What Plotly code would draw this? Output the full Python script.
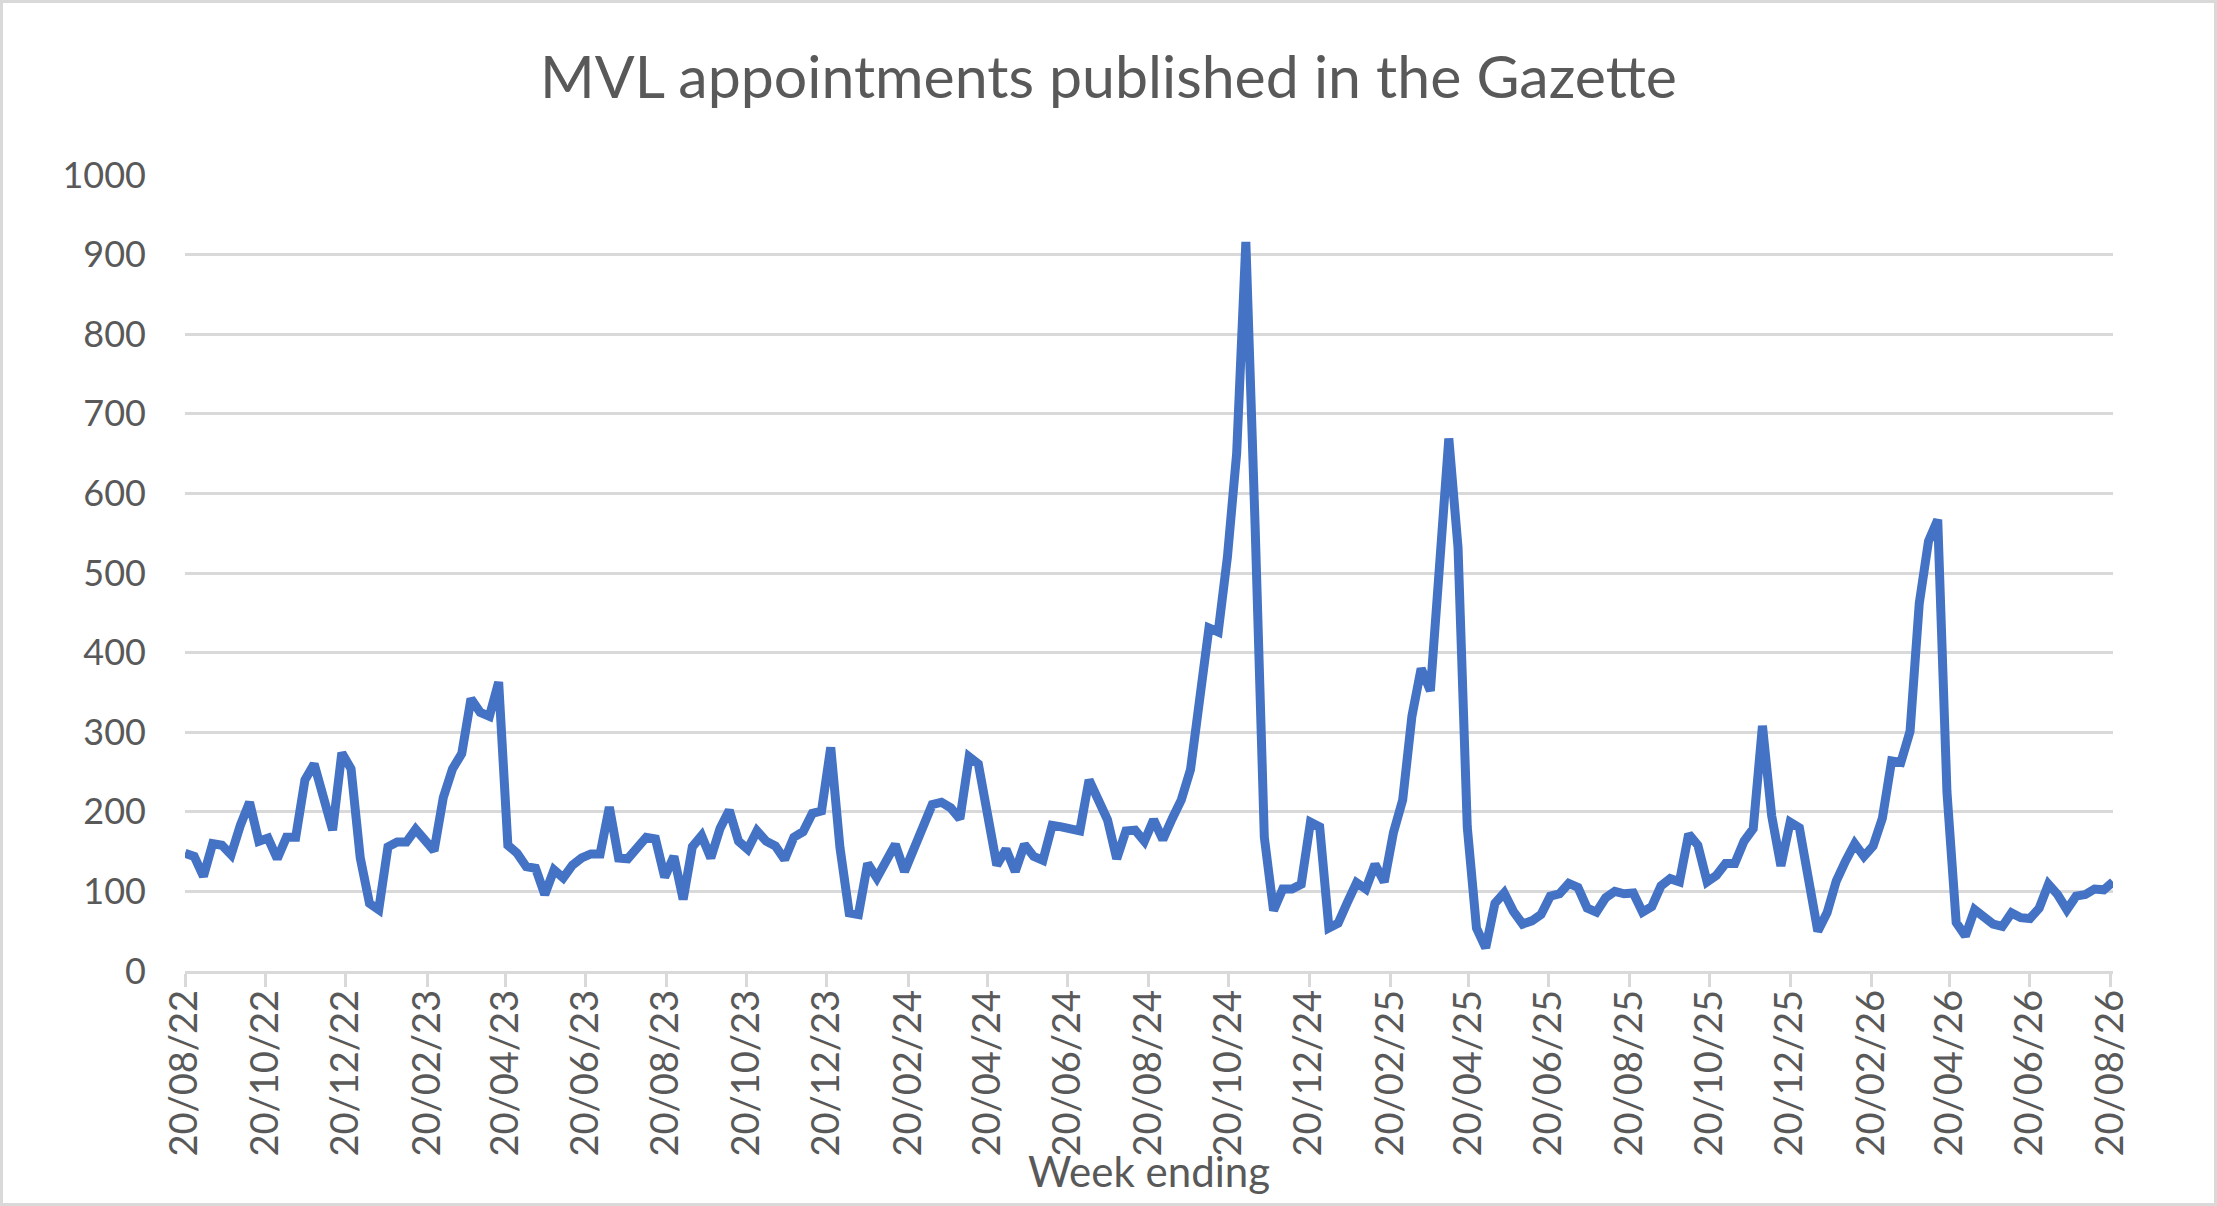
import pandas as pd
import plotly.graph_objects as go

# ---- data -------------------------------------------------------------
first_week = "2022-08-20"
appointments = [
    148, 144, 119, 160, 158, 146, 183, 212, 163, 167, 141, 168, 168, 240, 260, 221,
    177, 274, 254, 142, 85, 77, 156, 162, 162, 178, 165, 151, 218, 254, 273, 342,
    325, 320, 363, 158,
    148, 131, 129, 96, 127, 117, 133, 142, 147, 147, 206, 142, 141, 156, 168, 166,
    118, 144, 90, 156, 170, 142, 179, 202, 163, 153, 176, 163, 157, 140, 168, 175,
    198, 201, 281,
    155, 73, 71, 135, 117, 140, 159, 125, 154, 183, 209, 212, 205, 191, 269, 260,
    188, 133, 153, 125, 159, 144, 139, 183, 181, 179, 176, 240, 213, 190, 141, 176,
    177, 163, 190, 165,
    191, 215, 253, 345, 431, 426, 520, 650, 916, 560, 168, 76, 103, 103, 109, 187,
    181, 54, 60, 86, 111, 103, 134, 112, 174, 215, 320, 380, 352, 510, 669, 532,
    181, 54, 29,
    85, 98, 75, 59, 63, 71, 94, 97, 110, 105, 79, 74, 92, 100, 97, 98,
    74, 81, 107, 116, 112, 172, 158, 112, 120, 135, 135, 163, 179, 308, 195, 132,
    187, 180, 115, 50,
    73, 113, 138, 160, 144, 157, 192, 264, 262, 301, 462, 540, 567, 225, 61, 44,
    77, 67, 59, 56, 73, 67, 66, 79, 109, 96, 77, 94, 96, 103, 102, 112,
]
week_ending = pd.date_range(first_week, periods=len(appointments), freq="7D")

tick_dates = [
    "2022-08-20", "2022-10-20", "2022-12-20",
    "2023-02-20", "2023-04-20", "2023-06-20", "2023-08-20", "2023-10-20", "2023-12-20",
    "2024-02-20", "2024-04-20", "2024-06-20", "2024-08-20", "2024-10-20", "2024-12-20",
    "2025-02-20", "2025-04-20", "2025-06-20", "2025-08-20", "2025-10-20", "2025-12-20",
    "2026-02-20", "2026-04-20", "2026-06-20", "2026-08-20",
]
tick_labels = [
    "20/08/22", "20/10/22", "20/12/22",
    "20/02/23", "20/04/23", "20/06/23", "20/08/23", "20/10/23", "20/12/23",
    "20/02/24", "20/04/24", "20/06/24", "20/08/24", "20/10/24", "20/12/24",
    "20/02/25", "20/04/25", "20/06/25", "20/08/25", "20/10/25", "20/12/25",
    "20/02/26", "20/04/26", "20/06/26", "20/08/26",
]
y_ticks = [0, 100, 200, 300, 400, 500, 600, 700, 800, 900, 1000]

title_text = "MVL appointments published in the Gazette"
x_title_text = "Week ending"

# ---- figure -----------------------------------------------------------
W, H = 2217, 1206
ML, MR, MT, MB = 185, 104, 175, 235
PW, PH = W - ML - MR, H - MT - MB

FONT = "Lato, Carlito, Calibri, sans-serif"
TXT = "#595959"
GRID = "#D9D9D9"

fig = go.Figure()
fig.add_trace(go.Scatter(
    x=week_ending, y=appointments, mode="lines",
    line=dict(color="#4472C4", width=9),
    showlegend=False, hoverinfo="x+y",
))

fig.update_layout(
    width=W, height=H,
    margin=dict(l=ML, r=MR, t=MT, b=MB, pad=0),
    paper_bgcolor="white", plot_bgcolor="white",
    font=dict(family=FONT, color=TXT, size=36),
    title=dict(text=title_text, x=0.5, xanchor="center", xref="container",
               y=1 - 77 / H, yanchor="middle", yref="container",
               font=dict(family=FONT, size=59, color=TXT)),
    xaxis=dict(
        type="date",
        range=[week_ending[0], week_ending[-1]],
        tickvals=tick_dates, ticktext=tick_labels, tickangle=-90,
        showgrid=False, zeroline=False,
        showline=True, linecolor=GRID, linewidth=2.5,
        ticks="outside", ticklen=13, tickwidth=2.5, tickcolor=GRID,
        ticklabelstandoff=-12,
        tickfont=dict(family=FONT, size=38, color=TXT),
        fixedrange=True,
    ),
    yaxis=dict(
        range=[0, 1000], tickvals=y_ticks,
        showgrid=True, gridcolor=GRID, gridwidth=2.5,
        zeroline=False, showline=False, ticks="",
        ticklabelstandoff=38,
        tickfont=dict(family=FONT, size=36, color=TXT),
        fixedrange=True,
    ),
    annotations=[dict(
        text=x_title_text, xref="paper", yref="paper",
        x=0.5, y=-(1171 - (MT + PH)) / PH,
        xanchor="center", yanchor="middle", showarrow=False,
        font=dict(family=FONT, size=42, color=TXT),
    )],
    shapes=[dict(
        type="rect", xref="paper", yref="paper",
        x0=-(ML - 1.5) / PW, x1=(W - ML - 1.5) / PW,
        y0=-(MB - 1.5) / PH, y1=(H - MB - 1.5) / PH,
        line=dict(color=GRID, width=3), fillcolor="rgba(0,0,0,0)", layer="below",
    )],
)

fig.write_html("out.html", config={"displayModeBar": False},
               post_script="document.body.style.margin='0px';")
